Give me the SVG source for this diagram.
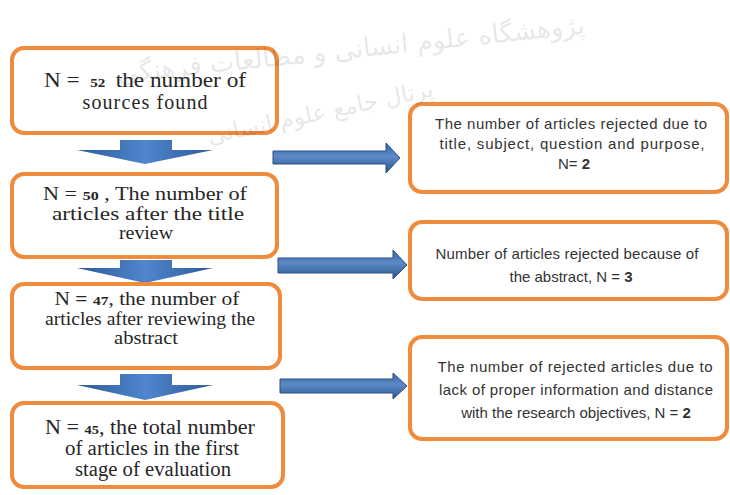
<svg xmlns="http://www.w3.org/2000/svg" width="730" height="495" viewBox="0 0 730 495">
<style>
.box{fill:#fff;stroke:#EE8B3E;stroke-width:4}
.lt{font-family:"Liberation Serif","Times New Roman",serif;font-size:20px;fill:#262626;text-anchor:middle}
.s18{font-size:18px}
.num{font-weight:bold;font-size:13px}
.rt{font-family:"Liberation Sans",Arial,sans-serif;font-size:15px;fill:#333;text-anchor:middle}
.wm{font-family:"DejaVu Sans",sans-serif;fill:#000;opacity:0.09}
</style>
<defs>
<linearGradient id="gd" x1="0" y1="0" x2="1" y2="0">
<stop offset="0" stop-color="#2C5A98"/><stop offset="0.5" stop-color="#4F86CC"/><stop offset="1" stop-color="#2C5A98"/>
</linearGradient>
<linearGradient id="gr" x1="0" y1="0" x2="0" y2="1">
<stop offset="0" stop-color="#3565A6"/><stop offset="0.45" stop-color="#5D8AC6"/><stop offset="1" stop-color="#29538E"/>
</linearGradient>
<filter id="glow" x="-5%" y="-10%" width="110%" height="120%"><feGaussianBlur stdDeviation="0.7"/></filter>
</defs>

<g id="connectors">
<path d="M120,140 H172 V150 H213 L145,164 L77,150 H120 Z" fill="url(#gd)"/>
<path d="M120,260 H172 V268 H213 L145,283 L77,268 H120 Z" fill="url(#gd)"/>
<path d="M120,374 H172 V385 H213 L145,400 L77,385 H120 Z" fill="url(#gd)"/>
<path d="M273,151 H386 V143 L400,158 L386,173 V164 H273 Z" fill="url(#gr)" stroke="#2A4F86" stroke-width="1"/>
<path d="M278,258 H393 V250 L407,265 L393,279 V273 H278 Z" fill="url(#gr)" stroke="#2A4F86" stroke-width="1"/>
<path d="M280,379 H393 V373 L407,386 L393,399 V393 H280 Z" fill="url(#gr)" stroke="#2A4F86" stroke-width="1"/>
</g>

<g id="n1">
<rect class="box" x="12" y="48" width="265" height="85" rx="12" filter="url(#glow)"/>
<text class="lt" x="145" y="87" font-size="21" textLength="202" lengthAdjust="spacingAndGlyphs">N = <tspan class="num" dx="4">52</tspan><tspan dx="4"> the number of</tspan></text>
<text class="lt" x="145" y="109" font-size="21" textLength="125">sources found</text>
</g>

<g id="n2">
<rect class="box" x="12" y="174" width="265" height="83" rx="12" filter="url(#glow)"/>
<text class="lt s18" x="145" y="200" textLength="204" lengthAdjust="spacingAndGlyphs">N = <tspan class="num">50</tspan> , The number of</text>
<text class="lt s18" x="148" y="220" textLength="192" lengthAdjust="spacingAndGlyphs">articles after the title</text>
<text class="lt s18" x="146" y="239" textLength="54" lengthAdjust="spacingAndGlyphs">review</text>
</g>

<g id="n3">
<rect class="box" x="12" y="284" width="268" height="84" rx="12" filter="url(#glow)"/>
<text class="lt s18" x="147" y="305" textLength="185" lengthAdjust="spacingAndGlyphs">N <tspan font-weight="bold">=</tspan> <tspan class="num">47</tspan>, the number of</text>
<text class="lt s18" x="150" y="325" textLength="210" lengthAdjust="spacingAndGlyphs">articles after reviewing  the</text>
<text class="lt s18" x="146" y="344" textLength="64" lengthAdjust="spacingAndGlyphs">abstract</text>
</g>

<g id="n4">
<rect class="box" x="12" y="403" width="271" height="84" rx="12" filter="url(#glow)"/>
<text class="lt" x="150" y="434" textLength="210" lengthAdjust="spacingAndGlyphs">N = <tspan class="num">45</tspan>, the total number</text>
<text class="lt" x="152" y="455" textLength="174" lengthAdjust="spacingAndGlyphs">of articles in the first</text>
<text class="lt" x="153" y="476" textLength="156" lengthAdjust="spacingAndGlyphs">stage of evaluation</text>
</g>

<g id="r1">
<rect class="box" x="410" y="104" width="317" height="88" rx="12" filter="url(#glow)"/>
<text class="rt" x="571" y="129" textLength="272">The number of articles rejected due to</text>
<text class="rt" x="572" y="149" textLength="265">title, subject, question and purpose,</text>
<text class="rt" x="574" y="169">N= <tspan font-weight="bold">2</tspan></text>
</g>

<g id="r2">
<rect class="box" x="410" y="222" width="317" height="77" rx="12" filter="url(#glow)"/>
<text class="rt" x="567" y="259" textLength="263">Number of articles rejected because of</text>
<text class="rt" x="571" y="282">the abstract, N = <tspan font-weight="bold">3</tspan></text>
</g>

<g id="r3">
<rect class="box" x="410" y="337" width="317" height="102" rx="12" filter="url(#glow)"/>
<text class="rt" x="575" y="372" textLength="275">The number of rejected articles due to</text>
<text class="rt" x="576" y="395" textLength="274">lack of proper information and distance</text>
<text class="rt" x="576" y="418">with the research objectives, N = <tspan font-weight="bold">2</tspan></text>
</g>

<g id="watermark">
<text class="wm" x="352" y="58" font-size="26" text-anchor="middle" transform="rotate(-6 352 58)">پژوهشگاه علوم انسانی و مطالعات فرهنگی</text>
<text class="wm" x="322" y="120" font-size="23" text-anchor="middle" transform="rotate(-12 322 120)">پرتال جامع علوم انسانی</text>
</g>
</svg>
